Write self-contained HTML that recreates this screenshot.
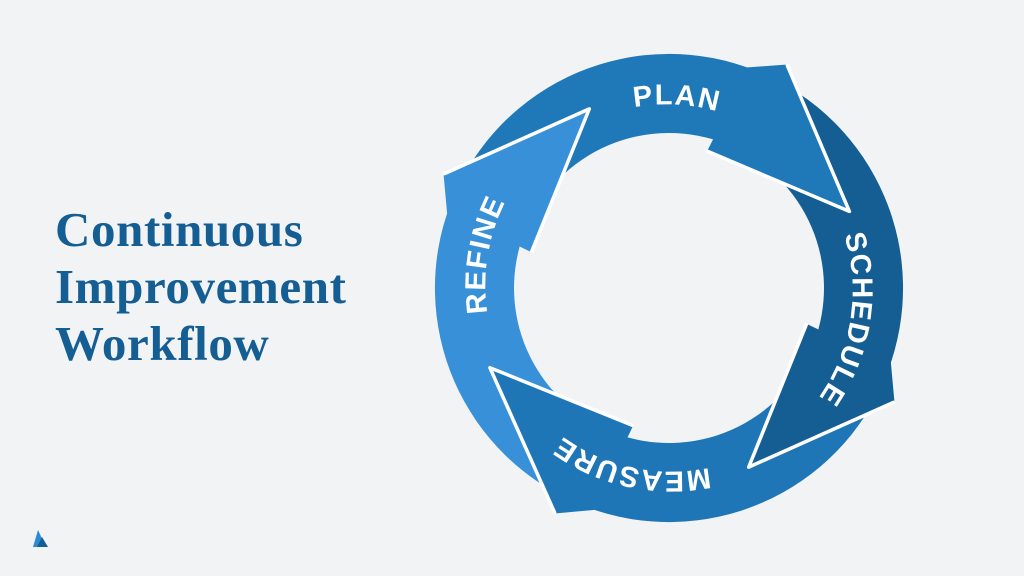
<!DOCTYPE html>
<html><head><meta charset="utf-8"><style>
html,body{margin:0;padding:0;background:#f2f3f5;width:1024px;height:576px;overflow:hidden}
.t{position:absolute;left:55px;top:201px;font-family:"Liberation Serif",serif;font-weight:bold;font-size:49px;line-height:57px;color:#155e94;letter-spacing:0.6px}
svg{position:absolute;left:0;top:0}
</style></head><body>
<div class="t">Continuous<br>Improvement<br>Workflow</div>
<svg id="s" width="1024" height="576" viewBox="0 0 1024 576">
<path d="M38 530 L46 547 L33 547 Z" fill="#2f8ad6"/>
<path d="M42 537 L48 547 L37 547 Z" fill="#155e94"/>
</svg>
<script>
var cx=669,cy=288,R=234,r=155,NS="http://www.w3.org/2000/svg",s=document.getElementById("s");
function P(a,rad){a=a*Math.PI/180;return (cx+rad*Math.cos(a)).toFixed(1)+" "+(cy+rad*Math.sin(a)).toFixed(1);}
function el(t,at){var e=document.createElementNS(NS,t);for(var k in at)e.setAttribute(k,at[k]);s.appendChild(e);return e;}
var arr=[{b:-67,c:"#1f78b8"},{b:22,c:"#155e93"},{b:112,c:"#1f76b6"},{b:202,c:"#3890d8"}];
for(var i=0;i<4;i++){var a0=arr[(i+3)%4].b+(i==0?-360:0),a1=arr[i].b-1;
 el("path",{d:"M"+P(a0,R)+" A"+R+" "+R+" 0 0 1 "+P(a1,R)+" L"+P(a1,r)+" A"+r+" "+r+" 0 0 0 "+P(a0,r)+" Z",fill:arr[i].c});}
for(var i=0;i<4;i++){var b=arr[i].b,ow=P(b+5,252),tp=P(b+44,196),iw=P(b-7,142);
 el("path",{d:"M"+P(b-4,R-2)+" L"+ow+" L"+tp+" L"+iw+" L"+P(b-6,r+2)+" Z",fill:arr[i].c,stroke:arr[i].c,"stroke-width":2,"stroke-linejoin":"round"});
 el("path",{d:"M"+ow+" L"+tp+" L"+iw,fill:"none",stroke:"#fff","stroke-width":3.5,"stroke-linejoin":"round","stroke-linecap":"round"});}
var tr=186;
el("path",{id:"tp",d:"M"+P(-135,tr)+" A"+tr+" "+tr+" 0 0 1 "+P(45,tr)+" A"+tr+" "+tr+" 0 0 1 "+P(-135,tr),fill:"none"});
var C=2*Math.PI*tr,labels=[["PLAN",-88],["SCHEDULE",8],["MEASURE",99],["REFINE",186]];
labels.forEach(function(l){var off=((l[1]+135+360)%360)/360*C;
 var t=el("text",{"font-family":"Liberation Sans, sans-serif","font-weight":"bold","font-size":"29","fill":"#fff","text-anchor":"middle","letter-spacing":"1.5"});
 var p=document.createElementNS(NS,"textPath");p.setAttribute("href","#tp");p.setAttributeNS("http://www.w3.org/1999/xlink","xlink:href","#tp");p.setAttribute("startOffset",off.toFixed(1));p.textContent=l[0];t.appendChild(p);});
</script>
</body></html>
